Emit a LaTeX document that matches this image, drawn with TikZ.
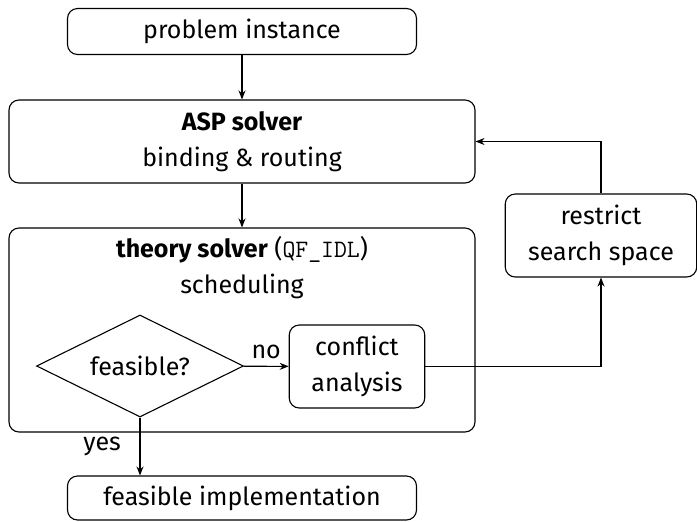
\documentclass[tikz,border=0pt]{standalone}
\usepackage{fontspec}
\setmainfont{Fira Sans}
\usetikzlibrary{positioning,shapes.geometric,arrows.meta}

\tikzset{
  box/.style={draw, rounded corners=5pt, align=center, inner sep=0pt},
  decision/.style={draw, diamond, aspect=2, inner sep=0pt, minimum width=103.5pt, minimum height=51pt},
}

\begin{document}
\begin{tikzpicture}[x=0.5pt, y=-0.5pt, line width=0.55pt,
    >={Stealth[length=4.5pt, width=3.5pt]}, font=\fontsize{12.5}{18}\selectfont]
	\useasboundingbox (0,0) rectangle (697,521);
	
	\node[box, minimum width=174.5pt, minimum height=23pt] (instance) at (242,31.5) {problem instance};
	\node[box, minimum width=233pt, minimum height=41.5pt] (asp) at (242,141.5)
	{\textbf{ASP solver}\\binding \& routing};
	\node[box, minimum width=233pt, minimum height=102pt] (theory) at (242,330) {};
	\node[align=center] (theorytitle) at (242,268)
	{\textbf{theory solver} (\texttt{QF\_IDL})\\scheduling};
	\node[decision] (feasible) at (140,366) {feasible?};
	\node[box, minimum width=67.75pt, minimum height=41.5pt] (conflict) at (357,366.5) {conflict\\analysis};
	\node[box, minimum width=95.75pt, minimum height=41.5pt] (restrict) at (601,235.5) {restrict\\search space};
	\node[box, minimum width=174.5pt, minimum height=22pt] (impl) at (242,498) {feasible implementation};
	
	\draw[->] (instance) -- (asp);
	\draw[->] (asp) -- (theory);
	\draw[->] (feasible) -- node[above] {no} (conflict);
	\draw[->] (feasible) -- node[left=6pt] {yes} (feasible |- impl.north);
	\draw[->] (conflict) -| (restrict);
	\draw[->] (restrict) |- (asp);
\end{tikzpicture}
\end{document}
